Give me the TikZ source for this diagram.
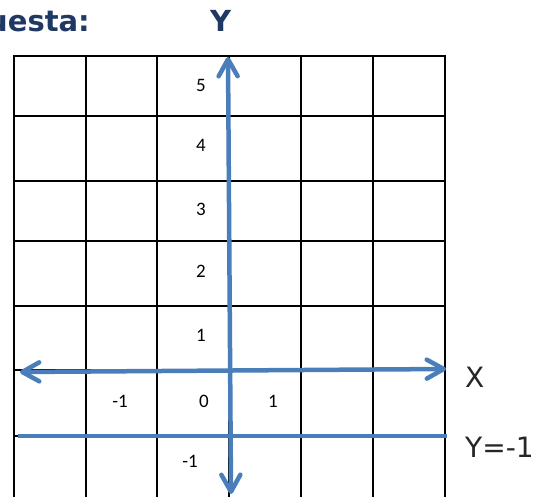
\documentclass[tikz,border=0pt]{standalone}
\usepackage{fontspec}
\setmainfont{Carlito}
\newfontfamily\verd{DejaVu Sans}
\usetikzlibrary{arrows.meta}
\definecolor{AxisBlue}{RGB}{74,126,187}
\definecolor{Navy}{RGB}{31,56,100}
\definecolor{Ink}{RGB}{38,38,38}
\tikzset{
  gridline/.style={draw=black,line width=2pt,line cap=rect},
  axis/.style={{Straight Barb[length=17pt,width=19pt,round]}-{Straight Barb[length=17pt,width=19pt,round]},line width=4.5pt,draw=AxisBlue},
  level/.style={line width=4pt,draw=AxisBlue},
  num/.style={font=\fontsize{19}{19}\selectfont,text=black,inner sep=0pt},
  axname/.style={font=\verd\fontsize{28}{28}\selectfont,text=Ink,anchor=west,inner sep=0pt},
  heading/.style={font=\verd\bfseries\fontsize{29}{29}\selectfont,text=Navy,inner sep=0pt}
}
\begin{document}
\begin{tikzpicture}[x=1pt,y=-1pt]
  \useasboundingbox (0,0) rectangle (550,497);
  \clip (0,0) rectangle (550,497);
  \fill[white] (0,0) rectangle (550,497);
  \foreach \x in {14,86,157,229,301,373,445}{\draw[gridline] (\x,56) -- (\x,505);}
  \foreach \y in {56,116,181,241,306,370,436}{\draw[gridline] (14,\y) -- (445,\y);}
  \node[heading,anchor=base east] (resp) at (90,32) {uesta:};
  \node[heading] (yname) at (220.5,21) {Y};
  \node[num] (five) at (201,85) {5};
  \node[num] (four) at (201,145) {4};
  \node[num] (three) at (201,209) {3};
  \node[num] (two) at (201,271) {2};
  \node[num] (one) at (201,335) {1};
  \node[num] (xminus) at (120,401.5) {-1};
  \node[num] (zero) at (204,401.5) {0};
  \node[num] (xone) at (273,401.5) {1};
  \node[num] (yminus) at (190,461.5) {-1};
  \node[axname] (xname) at (465,377) {X};
  \node[axname] (levelname) at (465,447.5) {Y=-1};
  \coordinate (lvwest) at (18,436.5);
  \coordinate (lveast) at (447,436.5);
  \coordinate (xwest) at (20,372);
  \coordinate (xeast) at (446,369);
  \coordinate (ytop) at (228,57);
  \coordinate (ybot) at (231,494);
  \draw[level] (lvwest) -- (lveast);
  \draw[axis] (xwest) -- (xeast);
  \draw[axis] (ybot) -- (ytop);
\end{tikzpicture}
\end{document}
